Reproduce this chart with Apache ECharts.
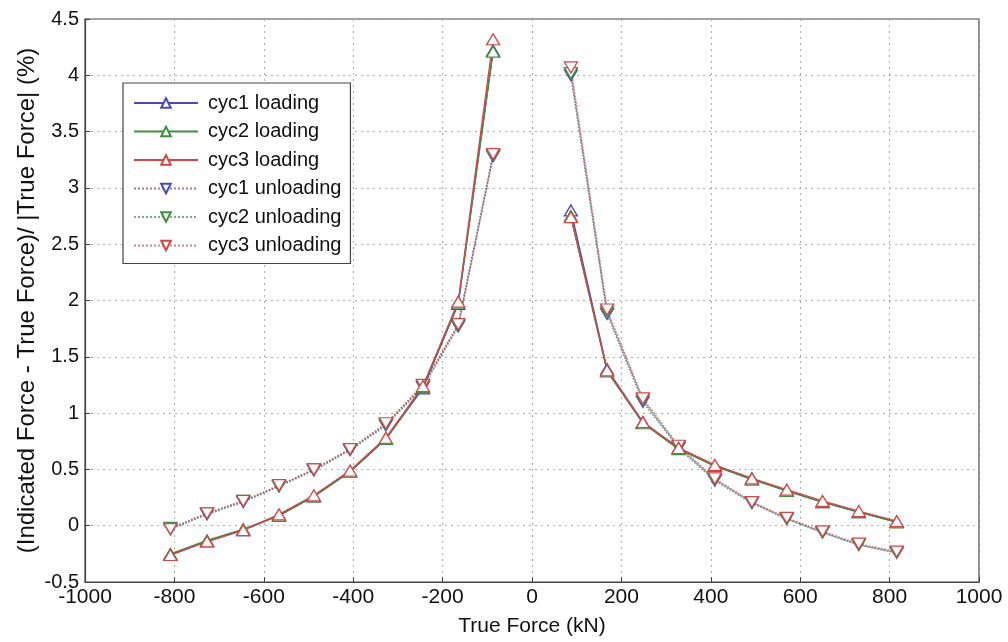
<!DOCTYPE html>
<html><head><meta charset="utf-8">
<script src="https://cdn.jsdelivr.net/npm/echarts@6/dist/echarts.min.js"></script>
<style>html,body{margin:0;padding:0;background:#fff}#c{width:1008px;height:642px}</style>
</head><body><div id="c"></div>
<script>
// True force (kN) sample points
const forceNeg = [-809,-727,-646,-566,-488,-407,-327,-244,-165,-87];
const forcePos = [87,168,248,328,409,492,570,650,731,816];

// Loading error (%)
const cyc1LoadNeg = [-0.26,-0.14,-0.04,0.09,0.26,0.48,0.77,1.22,1.97,4.22];
const cyc2LoadNeg = [-0.25,-0.13,-0.03,0.09,0.26,0.48,0.77,1.23,1.98,4.21];
const cyc3LoadNeg = [-0.26,-0.14,-0.04,0.10,0.27,0.49,0.78,1.24,1.99,4.32];
const cyc1LoadPos = [2.80,1.39,0.92,0.69,0.53,0.42,0.31,0.21,0.12,0.035];
const cyc2LoadPos = [2.75,1.37,0.91,0.68,0.53,0.41,0.31,0.21,0.12,0.03];
const cyc3LoadPos = [2.74,1.38,0.92,0.69,0.54,0.42,0.32,0.22,0.13,0.04];

// Unloading error (%)
const cyc1UnNeg = [-0.03,0.10,0.21,0.35,0.49,0.67,0.89,1.23,1.77,3.28];
const cyc2UnNeg = [-0.02,0.11,0.22,0.35,0.50,0.68,0.90,1.24,1.78,3.29];
const cyc3UnNeg = [-0.03,0.11,0.22,0.36,0.50,0.68,0.91,1.25,1.79,3.30];
const cyc1UnPos = [4.00,1.88,1.10,0.69,0.40,0.20,0.06,-0.06,-0.17,-0.24];
const cyc2UnPos = [4.02,1.90,1.12,0.70,0.41,0.21,0.06,-0.06,-0.17,-0.24];
const cyc3UnPos = [4.07,1.92,1.13,0.71,0.42,0.21,0.07,-0.05,-0.16,-0.23];

const names = ['cyc1 loading','cyc2 loading','cyc3 loading','cyc1 unloading','cyc2 unloading','cyc3 unloading'];
const colors = ['#4a4ab0','#3f8f3f','#d04848','#4a4ab0','#3f8f3f','#d04848'];

function pairs(neg, pos){
  const d = neg.map((v,i)=>[forceNeg[i], v]);
  d.push([0,'-']);
  pos.forEach((v,i)=>d.push([forcePos[i], v]));
  return d;
}
const dataSets = [
  pairs(cyc1LoadNeg,cyc1LoadPos), pairs(cyc2LoadNeg,cyc2LoadPos), pairs(cyc3LoadNeg,cyc3LoadPos),
  pairs(cyc1UnNeg,cyc1UnPos), pairs(cyc2UnNeg,cyc2UnPos), pairs(cyc3UnNeg,cyc3UnPos)
];

const series = names.map((n,i)=>{
  const unload = i>=3;
  return {
    name:n, type:'line', data:dataSets[i],
    symbol:'triangle', symbolSize:[13,11], symbolRotate: unload?180:0,
    connectNulls:false,
    lineStyle:{color:colors[i], width: unload?1.6:1.4, type: unload?'dotted':'solid', opacity: unload?0.7:1},
    itemStyle:{color:'#fff', borderColor:colors[i], borderWidth:1.3},
    emphasis:{disabled:true}, animation:false, z: unload?2:3
  };
});

const FONT = 'Liberation Sans, Arial, sans-serif';
const chart = echarts.init(document.getElementById('c'));
chart.setOption({
  animation:false,
  textStyle:{fontFamily:FONT},
  grid:{left:85,right:29,top:19,bottom:58,show:true,borderColor:'#444',borderWidth:1.2,backgroundColor:'#fff'},
  legend:{
    orient:'vertical', left:123, top:83, data:names,
    backgroundColor:'#fff', borderColor:'#444', borderWidth:1.2,
    padding:[10,9,8,10], itemWidth:64, itemHeight:12, itemGap:8.5,
    textStyle:{fontSize:20, lineHeight:19, color:'#111', fontFamily:FONT, padding:[0,0,0,5]}
  },
  xAxis:{
    type:'value', min:-1000, max:1000, interval:200,
    name:'True Force (kN)', nameLocation:'middle', nameGap:34, nameMoveOverlap:false,
    nameTextStyle:{fontSize:21,color:'#111'},
    axisLine:{show:true,onZero:false,lineStyle:{color:'#444',width:1.2}},
    axisTick:{show:true,inside:true,length:5,lineStyle:{color:'#444'}},
    axisLabel:{fontSize:21,color:'#111',margin:5,formatter:v=>String(v)},
    splitLine:{show:true,lineStyle:{color:'#aaa',type:[2,4],width:1}}
  },
  yAxis:{
    type:'value', min:-0.5, max:4.5, interval:0.5,
    name:'(Indicated Force - True Force)/ |True Force| (%)', nameLocation:'middle', nameGap:46, nameMoveOverlap:false,
    nameTextStyle:{fontSize:24,color:'#111'},
    axisLine:{show:true,onZero:false,lineStyle:{color:'#444',width:1.2}},
    axisTick:{show:true,inside:true,length:5,lineStyle:{color:'#444'}},
    axisLabel:{fontSize:20,color:'#111',margin:6,formatter:v=>String(v)},
    splitLine:{show:true,lineStyle:{color:'#aaa',type:[2,4],width:1}}
  },
  series: series
});
</script></body></html>
